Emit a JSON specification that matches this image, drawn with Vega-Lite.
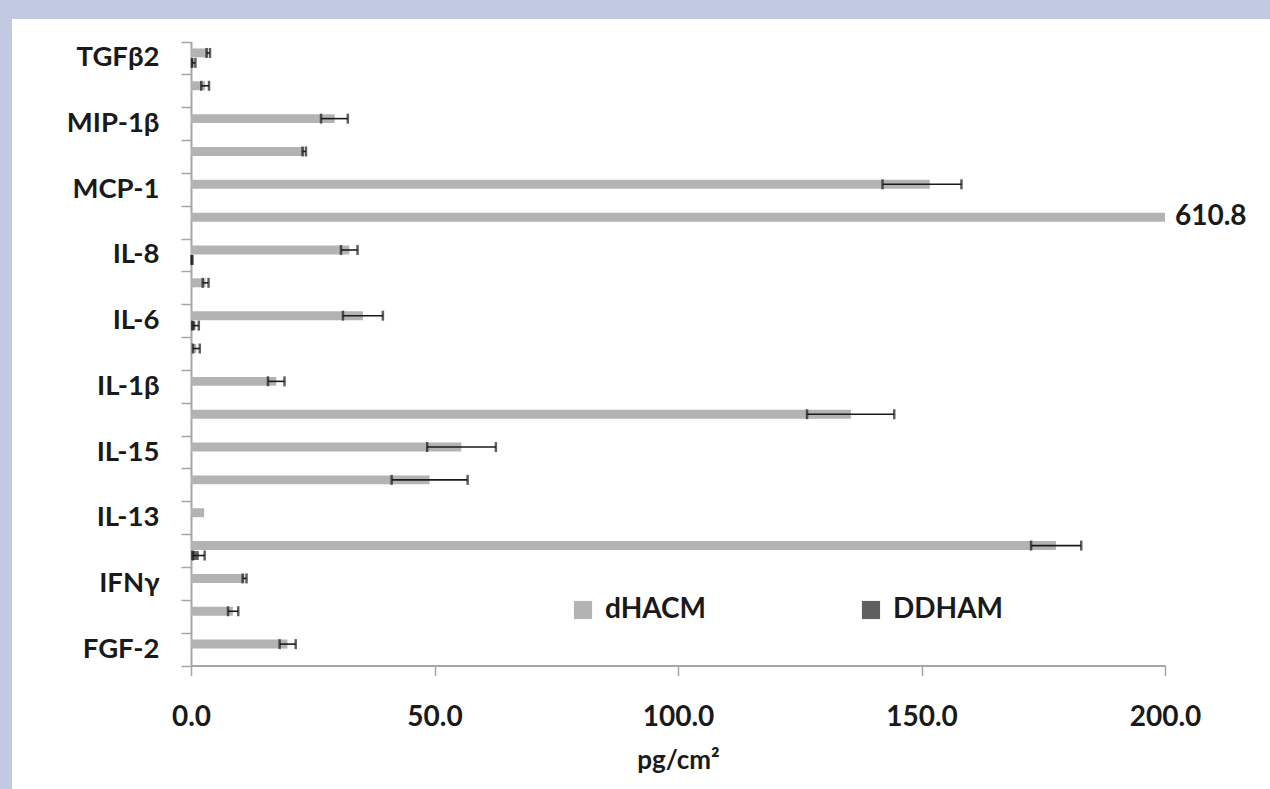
{
  "$schema": "https://vega.github.io/schema/vega-lite/v6.json",
  "autosize": "none",
  "width": 1258,
  "height": 770,
  "padding": {"left": 12, "top": 19, "right": 0, "bottom": 0},
  "background": "#c1c9e1",
  "config": {
    "view": {"fill": "white", "stroke": null},
    "font": "Lato",
    "axis": {"labelFont": "Lato", "titleFont": "Lato", "labelFontWeight": "bold", "titleFontWeight": "bold", "labelColor": "#1a1a1a", "titleColor": "#1a1a1a", "domainColor": "#a6a6a6", "tickColor": "#a6a6a6", "domainWidth": 2, "tickWidth": 1.5, "tickSize": 10, "grid": false, "labelFlush": false},
    "legend": {"labelFont": "Lato", "labelFontWeight": "bold", "labelColor": "#1a1a1a"}
  },
  "data": {
    "values": [
      {"slot": "TGFβ2", "series": "dHACM", "value": 3.5, "lo": 3.2, "hi": 3.9},
      {"slot": "TGFβ2", "series": "DDHAM", "value": 0.5, "lo": 0.2, "hi": 0.9},
      {"slot": "(u2)", "series": "dHACM", "value": 2.9, "lo": 2.1, "hi": 3.7},
      {"slot": "MIP-1β", "series": "dHACM", "value": 29.5, "lo": 26.7, "hi": 32.2},
      {"slot": "(u4)", "series": "dHACM", "value": 23.2, "lo": 22.9, "hi": 23.6},
      {"slot": "MCP-1", "series": "dHACM", "value": 151.7, "lo": 142.0, "hi": 158.2},
      {"slot": "(u6)", "series": "dHACM", "value": 610.8, "lo": null, "hi": null},
      {"slot": "IL-8", "series": "dHACM", "value": 32.5, "lo": 30.8, "hi": 34.2},
      {"slot": "IL-8", "series": "DDHAM", "value": 0.2, "lo": 0.1, "hi": 0.3},
      {"slot": "(u8)", "series": "dHACM", "value": 3.0, "lo": 2.4, "hi": 3.6},
      {"slot": "IL-6", "series": "dHACM", "value": 35.3, "lo": 31.2, "hi": 39.4},
      {"slot": "IL-6", "series": "DDHAM", "value": 0.9, "lo": 0.3, "hi": 1.6},
      {"slot": "(u10)", "series": "dHACM", "value": 1.1, "lo": 0.4, "hi": 1.8},
      {"slot": "IL-1β", "series": "dHACM", "value": 17.5, "lo": 15.8, "hi": 19.2},
      {"slot": "(u12)", "series": "dHACM", "value": 135.5, "lo": 126.5, "hi": 144.4},
      {"slot": "IL-15", "series": "dHACM", "value": 55.5, "lo": 48.5, "hi": 62.6},
      {"slot": "(u14)", "series": "dHACM", "value": 49.0, "lo": 41.2, "hi": 56.8},
      {"slot": "IL-13", "series": "dHACM", "value": 2.7, "lo": null, "hi": null},
      {"slot": "(u16)", "series": "dHACM", "value": 177.6, "lo": 172.5, "hi": 182.8},
      {"slot": "(u16)", "series": "DDHAM", "value": 1.6, "lo": 0.4, "hi": 2.8},
      {"slot": "IFNγ", "series": "dHACM", "value": 11.0, "lo": 10.6, "hi": 11.4},
      {"slot": "(u18)", "series": "dHACM", "value": 8.6, "lo": 7.6, "hi": 9.7},
      {"slot": "FGF-2", "series": "dHACM", "value": 19.8, "lo": 18.2, "hi": 21.5}
    ]
  },
  "encoding": {
    "y": {
      "field": "slot", "type": "nominal",
      "scale": {
        "domain": ["TGFβ2", "(u2)", "MIP-1β", "(u4)", "MCP-1", "(u6)", "IL-8", "(u8)", "IL-6", "(u10)", "IL-1β", "(u12)", "IL-15", "(u14)", "IL-13", "(u16)", "IFNγ", "(u18)", "FGF-2"],
        "range": [22.5, 646.5], "paddingInner": 0, "paddingOuter": 0
      },
      "axis": {"title": null, "offset": -179, "tickBand": "extent", "labelFontSize": 27.5, "labelPadding": 22, "labelExpr": "indexof(datum.label, '(') == 0 ? '' : datum.label"}
    },
    "yOffset": {"field": "series", "type": "nominal", "scale": {"domain": ["dHACM", "DDHAM"], "paddingInner": 0.1, "paddingOuter": 0.7}}
  },
  "layer": [
    {
      "mark": {"type": "bar", "clip": true},
      "encoding": {
        "x": {
          "field": "value", "type": "quantitative",
          "scale": {"domain": [0, 200], "range": [179, 1153], "clamp": true, "nice": false},
          "axis": {"title": "pg/cm²", "offset": -123.5, "values": [0, 50, 100, 150, 200], "format": ".1f", "labelFontSize": 28, "labelPadding": 28, "titleFontSize": 26, "titlePadding": 16}
        },
        "color": {
          "field": "series", "type": "nominal",
          "scale": {"domain": ["dHACM", "DDHAM"], "range": ["#b3b3b3", "#5f5f5f"]},
          "legend": {"title": null, "orient": "none", "legendX": 557, "legendY": 577, "direction": "horizontal", "symbolType": "square", "symbolSize": 330, "symbolStrokeWidth": 0, "labelFontSize": 28, "labelOffset": 8, "columnPadding": 150}
        }
      }
    },
    {
      "transform": [{"filter": "isValid(datum.lo)"}],
      "mark": {"type": "rule", "color": "#1a1a1a", "strokeWidth": 1.6},
      "encoding": {
        "x": {"field": "lo", "type": "quantitative"},
        "x2": {"field": "hi"}
      }
    },
    {
      "transform": [{"filter": "isValid(datum.lo)"}],
      "mark": {"type": "tick", "color": "#1a1a1a", "thickness": 2.5, "size": 10},
      "encoding": {"x": {"field": "lo", "type": "quantitative"}}
    },
    {
      "transform": [{"filter": "isValid(datum.hi)"}],
      "mark": {"type": "tick", "color": "#1a1a1a", "thickness": 2.5, "size": 10},
      "encoding": {"x": {"field": "hi", "type": "quantitative"}}
    },
    {
      "transform": [{"filter": "datum.value > 200"}],
      "mark": {"type": "text", "align": "left", "baseline": "middle", "dx": 10, "fontSize": 28, "fontWeight": "bold", "font": "Lato", "color": "#1a1a1a"},
      "encoding": {
        "x": {"field": "value", "type": "quantitative"},
        "text": {"field": "value", "type": "quantitative", "format": ".1f"}
      }
    }
  ]
}
